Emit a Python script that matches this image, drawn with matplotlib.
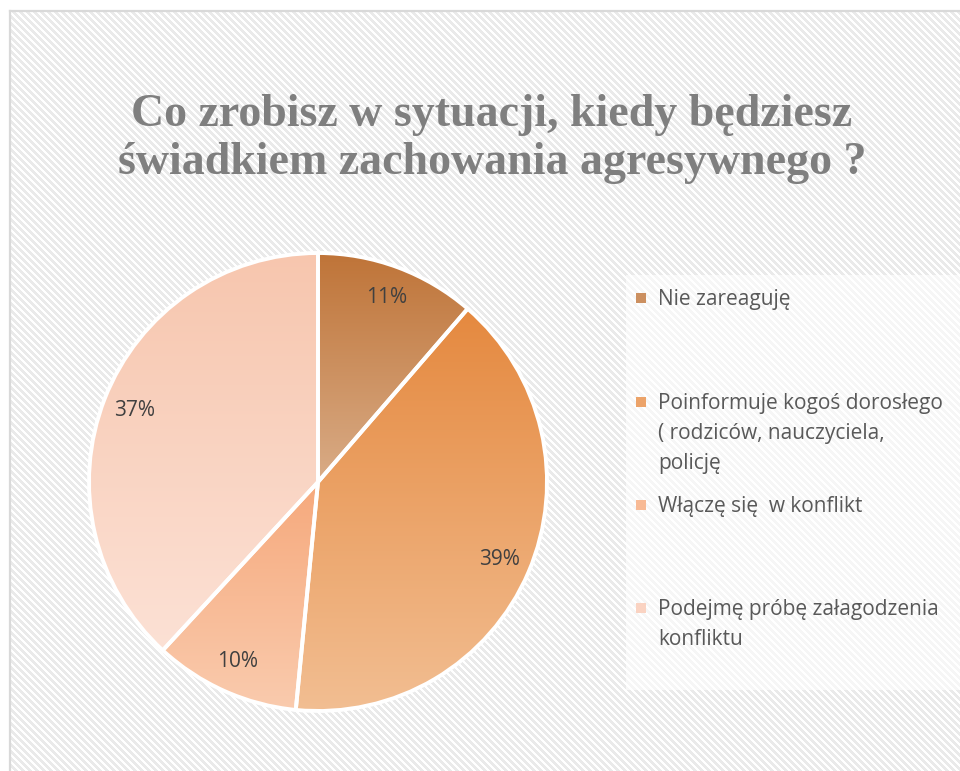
import numpy as np
import matplotlib
matplotlib.use("Agg")
import matplotlib.pyplot as plt
from matplotlib.patches import Rectangle
from matplotlib.colors import to_rgb

# Survey answers (value shown on each slice is the raw answer share)
categories = [
    "Nie zareaguję",
    "Poinformuje kogoś dorosłego\n( rodziców, nauczyciela,\npolicję",
    "Włączę się  w konflikt",
    "Podejmę próbę załagodzenia\nkonfliktu",
]
values = [11, 39, 10, 37]
title = "Co zrobisz w sytuacji, kiedy będziesz\nświadkiem zachowania agresywnego ?"

# Gradient colours per slice: (top, bottom)
grad_top = ["#BF7438", "#E5893F", "#F6A97C", "#F7C6AE"]
grad_bottom = ["#D9AC87", "#F2BE92", "#FACBAE", "#FCE1D5"]

W, H = 960, 771
fig = plt.figure(figsize=(W / 100, H / 100), dpi=100)

# ---- background layer in pixel coordinates ----
bg = fig.add_axes([0, 0, 1, 1])
bg.set_xlim(0, W)
bg.set_ylim(H, 0)
bg.axis("off")

yy, xx = np.mgrid[0:H, 0:W]
phase = ((xx - yy) % 7) / 7.0
stripes = np.where(phase < 0.45, 0.915, 1.0)
stripes[:11, :] = 1.0
stripes[:, :10] = 1.0
bg.imshow(stripes, cmap="gray", vmin=0, vmax=1, extent=(0, W, H, 0),
          interpolation="bilinear", zorder=0)

# chart area border
bg.plot([10, W + 5], [11, 11], color="#D9D9D9", lw=1.6, zorder=1)
bg.plot([10, 10], [11, H + 5], color="#D9D9D9", lw=1.6, zorder=1)

# legend panel
bg.add_patch(Rectangle((626, 275), W - 626 + 5, 415, facecolor="white",
                       alpha=0.6, edgecolor="none", zorder=1))

# title
bg.text(492, 139, title, ha="center", va="center", fontsize=33,
        fontweight="bold", family=["Liberation Serif"], color="#7F7F7F",
        linespacing=1.19, zorder=3)

# legend entries
entry_tops = [298, 402, 505, 608]
for cat, top_y, c0, c1 in zip(categories, entry_tops, grad_top, grad_bottom):
    mid = tuple((np.array(to_rgb(c0)) + np.array(to_rgb(c1))) / 2)
    bg.add_patch(Rectangle((636, top_y - 5), 10, 10, facecolor=mid,
                           edgecolor="none", zorder=3))
    bg.text(658, top_y - 9, cat, ha="left", va="top", fontsize=15,
            family=["Open Sans"], color="#595959", linespacing=1.56, zorder=3)

# ---- pie ----
cx, cy, r = 318, 482, 229
pad = 1.03
size = 2 * r * pad
pie_ax = fig.add_axes([(cx - r * pad) / W, (H - cy - r * pad) / H, size / W, size / H])
pie_ax.axis("off")

total = sum(values)
wedges, _, autotexts = pie_ax.pie(
    values, startangle=90, counterclock=False, radius=1,
    autopct=lambda p: f"{p * total / 100:.0f}%", pctdistance=0.86,
    wedgeprops=dict(edgecolor="white", linewidth=2.8),
    textprops=dict(fontsize=15, color="#404040", family=["Open Sans"]),
)

for w, c0, c1 in zip(wedges, grad_top, grad_bottom):
    t = np.linspace(np.radians(w.theta1), np.radians(w.theta2), 200)
    ys = np.concatenate([[0.0], np.sin(t)]) * w.r
    y0, y1 = ys.min(), ys.max()
    ramp = np.linspace(0, 1, 256)[:, None]
    a, b = np.array(to_rgb(c0)), np.array(to_rgb(c1))
    img = (a[None, :] * (1 - ramp) + b[None, :] * ramp)[:, None, :]
    im = pie_ax.imshow(img, extent=(-1, 1, y0, y1), origin="upper",
                       aspect="auto", interpolation="bilinear", zorder=0.5)
    im.set_clip_path(w)
    w.set_facecolor("none")
    w.set_zorder(1)

for t in autotexts:
    t.set_zorder(2)

pie_ax.set_xlim(-pad, pad)
pie_ax.set_ylim(-pad, pad)
pie_ax.set_aspect("equal")

fig.savefig("out.png", dpi=100)
